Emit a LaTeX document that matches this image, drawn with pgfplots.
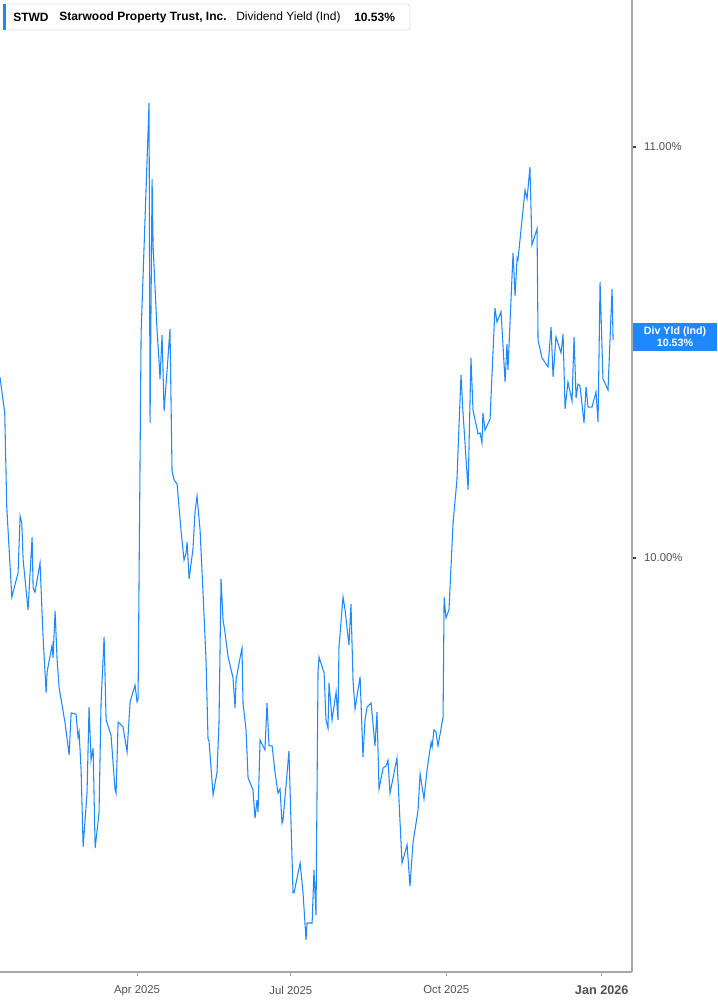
\documentclass[border=0pt]{standalone}
\usepackage{pgfplots}
\pgfplotsset{compat=1.18}
\usepackage{pgfplotstable}
\usepackage{fontspec}
\setmainfont{Liberation Sans}

\definecolor{lineblue}{HTML}{1E88FF}
\definecolor{axisgray}{HTML}{A8A8A8}
\definecolor{labelgray}{HTML}{505050}
\definecolor{boxgray}{HTML}{E2E2E2}

% day (0 = 1 Jan 2025), dividend yield in %
\pgfplotstableread{
day yield
8.9 10.440
11.7 10.353
12.9 10.124
15.9 9.905
19.6 9.964
20.8 10.102
21.8 10.085
22.6 9.995
25.5 9.874
27.9 10.051
28.5 9.927
29.6 9.917
32.6 9.988
33.8 9.866
34.4 9.808
36.2 9.672
36.8 9.723
39.7 9.788
40.3 9.757
41.5 9.871
42.7 9.752
43.9 9.684
47.4 9.599
49.8 9.521
51.0 9.623
53.9 9.620
55.1 9.564
55.7 9.577
56.9 9.484
58.1 9.297
60.4 9.428
61.6 9.637
62.8 9.508
64.0 9.538
65.2 9.294
67.5 9.380
68.7 9.647
70.5 9.808
71.7 9.606
74.6 9.569
77.0 9.436
77.6 9.428
78.8 9.601
81.7 9.589
84.1 9.528
85.9 9.650
88.8 9.691
90.0 9.650
90.6 9.655
92.4 10.548
97.1 11.107
97.7 10.329
98.9 10.922
99.5 10.759
101.8 10.557
103.0 10.479
103.6 10.436
104.8 10.543
106.0 10.358
107.8 10.458
109.5 10.557
110.7 10.212
111.9 10.190
113.7 10.180
116.0 10.068
117.8 9.995
119.0 10.012
119.6 10.039
120.8 9.949
123.1 10.022
124.3 10.112
125.5 10.151
127.3 10.068
129.1 9.910
130.8 9.754
132.0 9.560
132.6 9.555
135.0 9.423
136.2 9.453
137.3 9.477
138.5 9.599
139.7 9.949
140.9 9.849
142.1 9.818
143.9 9.759
146.8 9.708
148.0 9.635
148.6 9.703
150.4 9.745
152.1 9.781
152.7 9.647
154.5 9.582
155.7 9.465
158.6 9.436
159.8 9.367
161.0 9.411
161.6 9.382
162.8 9.557
165.7 9.533
166.9 9.647
168.1 9.543
169.9 9.543
171.7 9.477
173.4 9.428
174.6 9.438
175.8 9.355
176.4 9.363
179.9 9.530
182.3 9.185
182.9 9.185
186.5 9.258
188.2 9.187
190.0 9.071
190.6 9.112
193.6 9.112
194.7 9.241
195.9 9.131
197.1 9.723
197.7 9.759
200.7 9.720
201.8 9.606
203.0 9.586
203.6 9.696
205.4 9.606
207.8 9.674
208.9 9.606
209.5 9.783
211.9 9.905
213.1 9.874
215.4 9.788
216.6 9.888
217.8 9.703
219.0 9.633
222.0 9.711
223.7 9.516
224.9 9.606
226.1 9.637
228.5 9.647
230.8 9.543
232.0 9.625
233.2 9.438
235.6 9.489
237.3 9.494
238.5 9.508
239.7 9.428
243.8 9.513
246.8 9.258
249.8 9.302
251.5 9.202
253.3 9.307
256.3 9.387
257.5 9.475
259.8 9.414
261.6 9.484
264.0 9.552
264.6 9.540
265.7 9.582
266.9 9.577
268.1 9.543
271.1 9.613
271.7 9.905
272.8 9.854
274.6 9.874
277.0 10.085
279.3 10.190
280.5 10.319
281.7 10.445
282.9 10.353
285.9 10.166
287.6 10.487
288.8 10.360
291.8 10.302
293.0 10.304
294.1 10.280
294.7 10.353
295.9 10.311
298.9 10.338
301.8 10.608
303.0 10.574
305.4 10.599
307.8 10.428
308.9 10.521
309.5 10.458
312.5 10.742
313.7 10.638
314.9 10.730
315.4 10.725
317.8 10.822
319.6 10.895
320.8 10.874
322.5 10.951
323.7 10.762
326.7 10.801
327.3 10.530
329.6 10.487
333.2 10.465
335.0 10.562
336.2 10.440
337.9 10.538
340.9 10.499
342.1 10.545
343.3 10.363
345.0 10.428
347.4 10.382
348.6 10.538
349.8 10.389
350.9 10.423
352.1 10.419
354.5 10.329
355.7 10.416
356.9 10.367
359.2 10.367
361.6 10.404
362.8 10.331
364.0 10.672
365.7 10.436
368.7 10.409
371.1 10.655
371.7 10.530
}\yielddata

\begin{document}
\begin{tikzpicture}
\useasboundingbox (0,0) rectangle (537.75pt,753.75pt);
\begin{axis}[
    at={(0pt,24.75pt)}, anchor=south west,
    scale only axis, width=474pt, height=729pt,
    xmin=8.9, xmax=382.9, ymin=8.9927, ymax=11.3577,
    axis x line*=bottom, axis y line*=right,
    axis line style={axisgray, line width=0.8pt, -},
    xtick={90,181,273,365},
    xticklabels={Apr 2025, Jul 2025, Oct 2025,
        {\fontsize{9.5}{10}\selectfont\bfseries Jan 2026}},
    ytick={10,11},
    yticklabels={10.00\%, 11.00\%},
    tick align=outside, major tick length=3pt,
    xtick style={axisgray, line width=0.8pt},
    ytick style={black!75, line width=0.8pt},
    tick label style={font=\fontsize{8.5}{10}\selectfont, text=labelgray},
    xticklabel style={yshift=-4pt},
    yticklabel style={xshift=2.5pt},
    clip=false,
]
\addplot[lineblue, line width=0.8pt] table[x=day, y=yield] {\yielddata};
\end{axis}

% header box
\draw[boxgray, line width=0.6pt, fill=white, rounded corners=2pt]
    (2.25pt,731.25pt) rectangle (307.5pt,750.75pt);
\fill[lineblue] (2.25pt,731.25pt) rectangle (4.5pt,750.75pt);
\node[anchor=west, inner sep=0pt, font=\fontsize{9}{10}\selectfont\bfseries] at (9.75pt,740.5pt) {STWD};
\node[anchor=west, inner sep=0pt, font=\fontsize{9}{10}\selectfont\bfseries] at (44.25pt,740.5pt) {Starwood Property Trust, Inc.};
\node[anchor=west, inner sep=0pt, font=\fontsize{9}{10}\selectfont] at (177pt,740.5pt) {Dividend Yield (Ind)};
\node[anchor=west, inner sep=0pt, font=\fontsize{9}{10}\selectfont\bfseries] at (265.5pt,740.5pt) {10.53\%};

% last value label
\fill[lineblue] (474.75pt,490.5pt) rectangle (537.75pt,511.5pt);
\node[align=center, inner sep=0pt, text=white, font=\fontsize{8}{9.3}\selectfont\bfseries]
    at (506.25pt,501pt) {Div Yld (Ind)\\10.53\%};
\end{tikzpicture}
\end{document}
